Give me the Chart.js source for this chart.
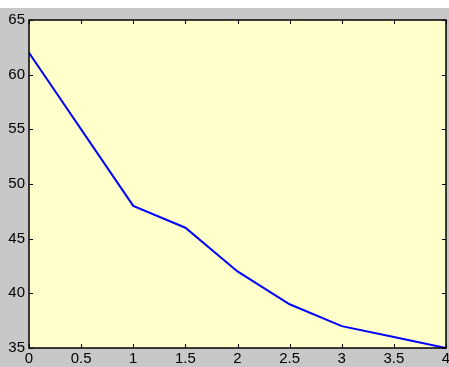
<!DOCTYPE html>
<html>
<head>
<meta charset="utf-8">
<script src="https://cdn.jsdelivr.net/npm/chart.js@4/dist/chart.umd.min.js"></script>
<style>
  html, body { margin: 0; padding: 0; background: #fff; overflow: hidden; }
  #wrap { width: 449px; height: 367px; position: relative; }
</style>
</head>
<body>
<div id="wrap"><canvas id="chart"></canvas></div>
<script>
// values
const xValues = [0, 1, 1.5, 2, 2.5, 3, 3.5, 4];
const yValues = [62, 48, 46, 42, 39, 37, 36, 35];
const xTicks = [0, 0.5, 1, 1.5, 2, 2.5, 3, 3.5, 4];
const yTicks = [35, 40, 45, 50, 55, 60, 65];

const points = xValues.map((x, i) => ({ x: x, y: yValues[i] }));

const tickFont = { family: '"Liberation Sans", Arial, sans-serif', size: 15 };

// gray figure, yellow axes, black box, ticks pointing inward on all sides
const framePlugin = {
  id: 'frame',
  beforeDraw(chart) {
    const { ctx, chartArea: a } = chart;
    ctx.save();
    ctx.fillStyle = '#c8c8c8';
    ctx.fillRect(0, 8, chart.width, chart.height - 8);
    ctx.fillStyle = '#ffffcc';
    ctx.fillRect(a.left, a.top, a.right - a.left, a.bottom - a.top);
    ctx.restore();
  },
  afterDatasetsDraw(chart) {
    const { ctx, chartArea: a, scales } = chart;
    ctx.save();
    ctx.strokeStyle = '#000';
    ctx.lineWidth = 1;
    ctx.beginPath();
    xTicks.forEach(v => {
      const px = Math.round(scales.x.getPixelForValue(v)) + 0.5;
      ctx.moveTo(px, a.bottom); ctx.lineTo(px, a.bottom - 4);
      ctx.moveTo(px, a.top); ctx.lineTo(px, a.top + 4);
    });
    yTicks.forEach(v => {
      const py = Math.round(scales.y.getPixelForValue(v)) + 0.5;
      ctx.moveTo(a.left, py); ctx.lineTo(a.left + 4, py);
      ctx.moveTo(a.right, py); ctx.lineTo(a.right - 4, py);
    });
    ctx.stroke();
    ctx.lineWidth = 1.5;
    ctx.strokeRect(a.left, a.top, a.right - a.left, a.bottom - a.top);
    ctx.restore();
  }
};

new Chart(document.getElementById('chart'), {
  type: 'line',
  data: {
    datasets: [{
      data: points,
      borderColor: '#0000ff',
      borderWidth: 2,
      pointRadius: 0,
      tension: 0,
      fill: false
    }]
  },
  options: {
    responsive: true,
    maintainAspectRatio: false,
    animation: false,
    layout: { padding: { top: 20, right: 3, left: 0, bottom: 0 } },
    plugins: { legend: { display: false }, tooltip: { enabled: false } },
    scales: {
      x: {
        type: 'linear',
        min: 0, max: 4,
        afterBuildTicks: s => { s.ticks = xTicks.map(v => ({ value: v })); },
        afterFit: s => { s.height = 19; s.paddingLeft = 0; s.paddingRight = 0; },
        grid: { display: false, drawTicks: false },
        border: { display: false },
        ticks: {
          color: '#000',
          padding: 2,
          maxRotation: 0,
          autoSkip: false,
          font: tickFont,
          callback: v => String(v)
        }
      },
      y: {
        min: 35, max: 65,
        afterBuildTicks: s => { s.ticks = yTicks.map(v => ({ value: v })); },
        afterFit: s => { s.width = 29; s.paddingTop = 0; s.paddingBottom = 0; },
        grid: { display: false, drawTicks: false },
        border: { display: false },
        ticks: {
          color: '#000',
          padding: 4,
          autoSkip: false,
          font: tickFont,
          callback: v => String(v)
        }
      }
    }
  },
  plugins: [framePlugin]
});
</script>
</body>
</html>
